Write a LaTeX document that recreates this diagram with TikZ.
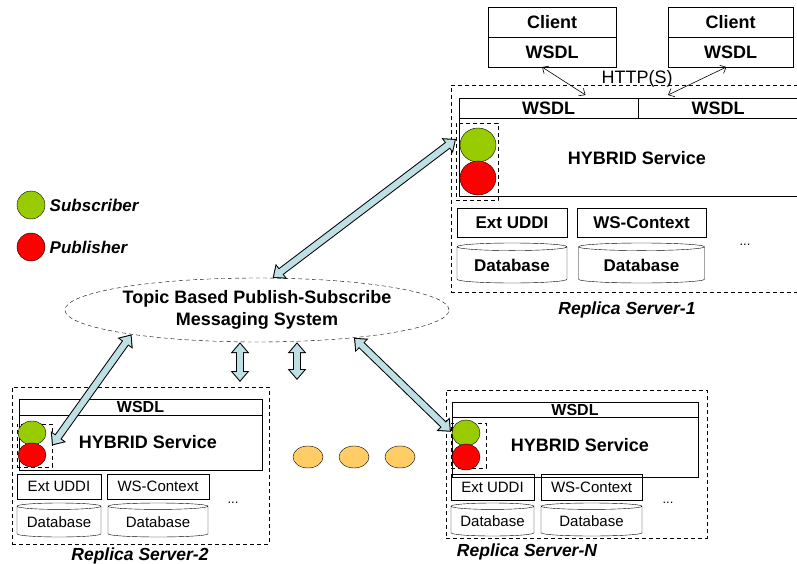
\documentclass[tikz,border=0pt]{standalone}
\usepackage{fontspec}
\setmainfont{Liberation Sans}
\usetikzlibrary{positioning,arrows.meta,calc,shapes.geometric}
\definecolor{subgreen}{RGB}{153,204,0}
\definecolor{pubred}{RGB}{255,0,0}
\definecolor{pipeblue}{RGB}{190,224,228}
\definecolor{dotorange}{RGB}{255,204,102}
\tikzset{
  line width  = 0.8pt,
  cbox/.style={
    draw,
    inner sep  = 0pt,
    outer sep  = 0pt,
    font       = \fontsize{18}{20}\selectfont\bfseries},
  wsdl/.style={
    cbox,
    font       = \fontsize{16}{18}\selectfont\bfseries},
  store/.style={
    cbox,
    font       = \fontsize{15}{17}\selectfont},
  srvbox/.style={
    draw,
    dash pattern = on 4pt off 3pt,
    inner sep    = 0pt,
    outer sep    = 0pt},
  psbox/.style={
    srvbox,
    line width   = 0.7pt},
  subdot/.style={
    ellipse,
    draw,
    fill       = subgreen,
    inner sep  = 0pt},
  pubdot/.style={
    subdot,
    fill       = pubred},
  dbase/.style={
    cylinder,
    draw,
    shape border rotate = 90,
    shape aspect        = 0.1,
    inner sep           = 0pt,
    outer sep           = 0pt,
    font                = \fontsize{17}{19}\selectfont\bfseries},
  sdbase/.style={
    dbase,
    font       = \fontsize{15}{17}\selectfont},
  srvname/.style={
    font       = \fontsize{17.5}{20}\selectfont\bfseries\itshape},
  hytext/.style={
    font       = \fontsize{18}{20}\selectfont\bfseries},
  topic/.style={
    ellipse,
    draw,
    fill         = white,
    dash pattern = on 4pt off 3pt,
    inner sep    = 0pt,
    align        = center,
    font         = \fontsize{18}{22}\selectfont\bfseries},
  moredots/.style={
    font       = \fontsize{13}{15}\selectfont},
  gap/.style={
    ellipse,
    draw,
    fill          = dotorange,
    minimum width = 30pt,
    minimum height= 22pt},
  http/.style={
    line width = 0.6pt,
    {Straight Barb[length=5pt,width=9pt]}-{Straight Barb[length=5pt,width=9pt]}},
  pipe/.style={
    draw       = black,
    line width = 8pt,
    {Triangle[width=18pt,length=11pt]}-{Triangle[width=18pt,length=11pt]},
    postaction={
      draw       = pipeblue,
      line width = 6pt,
      shorten <= 1.6pt,
      shorten >= 1.6pt,
      {Triangle[width=13.8pt,length=8.4pt]}-{Triangle[width=13.8pt,length=8.4pt]}}}
}

\begin{document}
\begin{tikzpicture}[x=1pt, y=-1pt]
\clip (0,0) rectangle (797,564);

% clients
\node[cbox, minimum width=128pt, minimum height=30pt] (cl1) at (552,22) {Client};
\node[cbox, minimum width=128pt, minimum height=30pt, below=0pt of cl1] (cw1) {WSDL};
\node[cbox, minimum width=125pt, minimum height=30pt] (cl2) at (730.5,22) {Client};
\node[cbox, minimum width=125pt, minimum height=30pt, below=0pt of cl2] (cw2) {WSDL};

% replica server 1
\node[srvbox, anchor=north west, minimum width=350pt, minimum height=207pt] (srv1) at (451,85) {};
\node[cbox, anchor=north west, minimum width=179pt, minimum height=20pt] (w1a) at (459,98) {WSDL};
\node[cbox, right=0pt of w1a, minimum width=160pt, minimum height=20pt] (w1b) {WSDL};
\node[cbox, anchor=north west, minimum width=339pt, minimum height=78pt] (hy1) at (w1a.south west) {};
\node[hytext] (hyt1) at (637,158) {HYBRID Service};
\node[psbox, minimum width=42pt, minimum height=77pt] (ps1) at (477,161.5) {};
\node[subdot, minimum width=36pt, minimum height=34pt] (sb1) at (478,145) {};
\node[pubdot, minimum width=36pt, minimum height=34pt] (pb1) at (478,178) {};
\node[cbox, anchor=north west, minimum width=110pt, minimum height=29pt,
      font=\fontsize{17}{19}\selectfont\bfseries] (ex1) at (457,208) {Ext UDDI};
\node[cbox, right=10pt of ex1, minimum width=129pt, minimum height=29pt,
      font=\fontsize{17}{19}\selectfont\bfseries] (ws1) {WS-Context};
\node[dbase, below=6pt of ex1, minimum width=110pt, minimum height=40pt] (db1a) {Database};
\node[dbase, below=6pt of ws1, minimum width=126pt, minimum height=40pt] (db1b) {Database};
\node[moredots] (etc1) at (745,245) {...};
\node[srvname] (nm1) at (627,310) {Replica Server-1};

\node[font=\fontsize{18}{20}\selectfont] (proto) at (637,79) {HTTP(S)};
\draw[http] ([xshift=-10pt]cw1.south) -- ([xshift=37pt,yshift=3pt]w1a.north);
\draw[http] ([xshift=-4pt]cw2.south) -- ([xshift=-50pt,yshift=3pt]w1b.north);

% legend
\node[subdot, minimum width=28pt, minimum height=28pt] (sbl) at (31,205) {};
\node[srvname, right=1pt of sbl, font=\fontsize{17}{19}\selectfont\bfseries\itshape] (sblt) {Subscriber};
\node[pubdot, minimum width=28pt, minimum height=28pt] (pbl) at (31,247) {};
\node[srvname, right=1pt of pbl, font=\fontsize{17}{19}\selectfont\bfseries\itshape] (pblt) {Publisher};

% messaging system
\node[topic, minimum width=384pt, minimum height=64pt] (topic) at (257,310)
  {Topic Based Publish-Subscribe\\Messaging System};

% replica server 2
\node[srvbox, anchor=north west, minimum width=257pt, minimum height=157pt] (srv2) at (12,387) {};
\node[wsdl, anchor=north west, minimum width=243pt, minimum height=16pt] (w2) at (19,399) {WSDL};
\node[cbox, anchor=north west, minimum width=243pt, minimum height=55pt] (hy2) at (w2.south west) {};
\node[hytext] (hyt2) at (148,442) {HYBRID Service};
\node[psbox, minimum width=35pt, minimum height=43pt] (ps2) at (34.5,445.5) {};
\node[subdot, minimum width=28pt, minimum height=24pt] (sb2) at (32,433) {};
\node[pubdot, minimum width=28pt, minimum height=24pt] (pb2) at (32,455) {};
\node[store, anchor=north west, minimum width=84pt, minimum height=25pt] (ex2) at (17,474) {Ext UDDI};
\node[store, right=6pt of ex2, minimum width=102pt, minimum height=25pt] (ws2) {WS-Context};
\node[sdbase, below=4pt of ex2, minimum width=84pt, minimum height=34pt] (db2a) {Database};
\node[sdbase, below=4pt of ws2, minimum width=100pt, minimum height=34pt] (db2b) {Database};
\node[moredots] (etc2) at (233,503) {...};
\node[srvname] (nm2) at (140,556) {Replica Server-2};

% replica server N
\node[srvbox, anchor=north west, minimum width=261pt, minimum height=148pt] (srvN) at (446,390) {};
\node[wsdl, anchor=north west, minimum width=246pt, minimum height=15pt] (wN) at (452,402) {WSDL};
\node[cbox, anchor=north west, minimum width=246pt, minimum height=60pt] (hyN) at (wN.south west) {};
\node[hytext] (hytN) at (580,445) {HYBRID Service};
\node[psbox, minimum width=35pt, minimum height=45pt] (psN) at (468.5,445.5) {};
\node[subdot, minimum width=28pt, minimum height=26pt] (sbN) at (466,433) {};
\node[pubdot, minimum width=28pt, minimum height=26pt] (pbN) at (466,457) {};
\node[store, anchor=north west, minimum width=83pt, minimum height=26pt] (exN) at (451,474) {Ext UDDI};
\node[store, right=7pt of exN, minimum width=101pt, minimum height=26pt] (wsN) {WS-Context};
\node[sdbase, below=3pt of exN, minimum width=83pt, minimum height=33pt] (dbNa) {Database};
\node[sdbase, below=3pt of wsN, minimum width=101pt, minimum height=33pt] (dbNb) {Database};
\node[moredots] (etcN) at (668,503) {...};
\node[srvname] (nmN) at (527,552) {Replica Server-N};

% more servers
\foreach \x [count=\i] in {308,354,400}
  \node[gap] (gap\i) at (\x,457) {};

% links to the messaging system
\draw[pipe] (topic.64) -- (ps1.133);
\draw[pipe] (topic.191) -- (ps2.east);
\draw[pipe] (topic.-16) -- (psN.142);
\coordinate (v1) at (240,382);
\coordinate (v2) at (297,380);
\draw[pipe] (v1 |- topic.south) -- (v1);
\draw[pipe] (v2 |- topic.south) -- (v2);

\end{tikzpicture}
\end{document}
